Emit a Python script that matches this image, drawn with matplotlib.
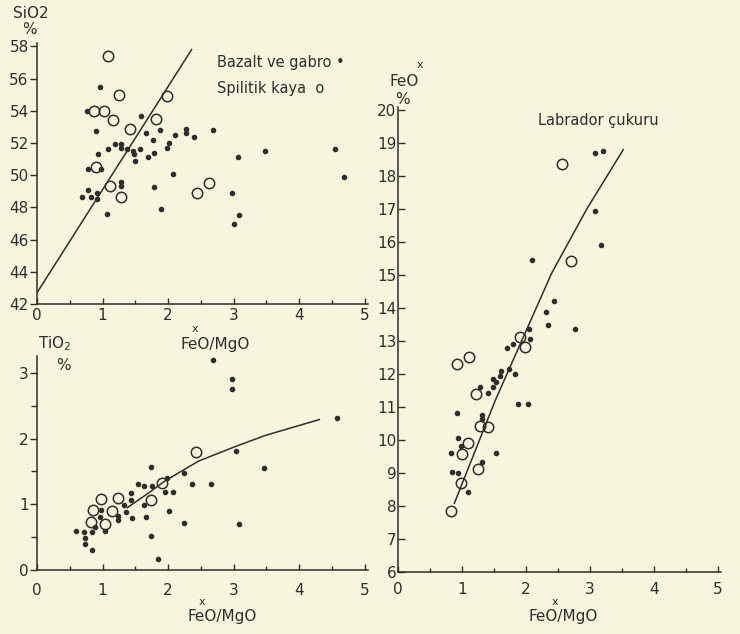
import matplotlib
matplotlib.use('Agg')
import matplotlib.pyplot as plt
from matplotlib.ticker import MultipleLocator

### data

# SiO2 % against FeO(x)/MgO
sio2_bazalt_x = [0.96, 0.76, 0.90, 0.93, 0.78, 0.97, 0.78, 0.69, 0.83, 0.92, 0.92, 1.07,
                 1.09, 1.19, 1.29, 1.28, 1.38, 1.47, 1.48, 1.50, 1.57, 1.28, 1.28, 1.59,
                 1.67, 1.77, 1.78, 1.69, 1.88, 2.02, 1.98, 2.10, 2.28, 2.28, 2.40, 2.69,
                 2.07, 1.79, 1.89, 3.07, 3.48, 2.97, 3.09, 3.00, 4.55, 4.69]
sio2_bazalt_y = [55.5, 54.0, 52.75, 51.3, 50.4, 50.4, 49.1, 48.65, 48.65, 48.9, 48.5, 47.6,
                 51.6, 51.95, 51.95, 51.7, 51.6, 51.5, 51.3, 50.9, 51.6, 49.6, 49.3, 53.7,
                 52.6, 52.2, 51.35, 51.1, 52.8, 52.0, 51.7, 52.5, 52.9, 52.6, 52.4, 52.8,
                 50.1, 49.25, 47.9, 51.1, 51.5, 48.9, 47.5, 47.0, 51.6, 49.9]
sio2_spilit_x = [1.09, 1.25, 0.87, 1.03, 1.165, 1.415, 1.98, 1.82, 0.905, 1.11, 1.28, 2.45, 2.62]
sio2_spilit_y = [57.4, 55.0, 54.0, 54.0, 53.4, 52.85, 54.9, 53.5, 50.5, 49.35, 48.65, 48.9, 49.5]
sio2_line_x = [0.0, 2.36]
sio2_line_y = [42.7, 57.8]

# TiO2 % against FeO(x)/MgO
tio2_bazalt_x = [0.60, 0.72, 0.74, 0.73, 0.835, 0.835, 0.885, 0.96, 0.97, 1.04, 1.24, 1.24,
                 1.33, 1.36, 1.455, 1.43, 1.43, 1.54, 1.63, 1.75, 1.745, 1.67, 1.64, 1.74,
                 1.85, 1.98, 1.95, 2.08, 2.02, 2.25, 2.37, 2.66, 2.24, 3.08, 2.68, 2.98,
                 2.98, 3.04, 3.46, 4.58]
tio2_bazalt_y = [0.60, 0.58, 0.48, 0.40, 0.31, 0.58, 0.65, 0.81, 0.92, 0.60, 0.76, 0.82,
                 0.99, 0.89, 0.79, 1.07, 1.17, 1.31, 1.28, 1.28, 1.57, 0.80, 0.99, 0.52,
                 0.17, 1.40, 1.19, 1.19, 0.90, 1.48, 1.31, 1.31, 0.72, 0.70, 3.20, 2.90,
                 2.76, 1.81, 1.56, 2.32]
tio2_spilit_x = [0.97, 1.23, 0.855, 1.14, 0.82, 1.04, 1.74, 1.91, 2.43]
tio2_spilit_y = [1.08, 1.09, 0.91, 0.90, 0.73, 0.70, 1.07, 1.32, 1.79]
tio2_curve_x = [1.38, 1.70, 1.96, 2.47, 3.03, 3.49, 4.31]
tio2_curve_y = [0.95, 1.17, 1.36, 1.66, 1.88, 2.05, 2.29]

# FeO(x) % against FeO(x)/MgO, Labrador cukuru
feo_bazalt_x = [0.85, 0.94, 1.09, 0.83, 0.94, 0.99, 0.93, 1.32, 1.53, 1.32, 1.31, 1.40,
                1.28, 1.49, 1.53, 1.48, 1.59, 1.61, 1.73, 1.83, 1.70, 1.80, 2.05, 2.06,
                1.88, 2.03, 2.32, 2.34, 2.44, 2.10, 2.77, 3.08, 3.17, 3.08, 3.21]
feo_bazalt_y = [9.04, 8.99, 8.42, 9.62, 10.05, 9.82, 10.81, 9.34, 9.62, 10.76, 10.63, 11.43,
                11.62, 11.62, 11.77, 11.84, 11.94, 12.09, 12.14, 12.0, 12.78, 12.9, 13.35, 13.05,
                11.09, 11.09, 13.89, 13.48, 14.22, 15.45, 13.35, 16.94, 15.9, 18.7, 18.76]
feo_spilit_x = [0.83, 0.98, 1.25, 0.995, 1.10, 1.40, 1.28, 1.22, 0.92, 1.11, 1.91, 1.98, 2.70, 2.57]
feo_spilit_y = [7.86, 8.71, 9.11, 9.58, 9.92, 10.4, 10.42, 11.4, 12.3, 12.52, 13.11, 12.83, 15.43, 18.36]
feo_line_x = [0.88, 1.52, 2.40, 2.95, 3.52]
feo_line_y = [8.08, 11.2, 15.05, 17.0, 18.8]

x_ticks = [0, 1, 2, 3, 4, 5]

paper = '#f7f5de'
ink = '#2e2e2e'


### helpers

def style_axes(ax, ylim, ymajor, yminor, ydir, xpad):
    ax.set_facecolor('none')
    for side in ['top', 'right']:
        ax.spines[side].set_visible(False)
    for side in ['left', 'bottom']:
        ax.spines[side].set_color(ink)
        ax.spines[side].set_linewidth(1.1)
    ax.set_xlim(0, 5.05)
    ax.set_ylim(ylim)
    ax.set_xticks(x_ticks)
    ax.xaxis.set_minor_locator(MultipleLocator(0.5))
    ax.yaxis.set_major_locator(MultipleLocator(ymajor))
    if yminor:
        ax.yaxis.set_minor_locator(MultipleLocator(yminor))
    ax.tick_params(axis='x', which='both', direction='in', color=ink,
                   labelcolor=ink, labelsize=11, pad=xpad)
    ax.tick_params(axis='x', which='major', length=4, width=1)
    ax.tick_params(axis='x', which='minor', length=3, width=1)
    ax.tick_params(axis='y', which='both', direction=ydir, color=ink,
                   labelcolor=ink, labelsize=11, pad=1)
    ax.tick_params(axis='y', which='major', length=5, width=1)
    ax.tick_params(axis='y', which='minor', length=4, width=1)


def draw_points(ax, bx, by, sx, sy):
    ax.plot(bx, by, 'o', color=ink, markersize=3.0, zorder=3)
    ax.plot(sx, sy, 'o', mfc='none', mec=ink, markersize=7.5, mew=1.1, zorder=4)


def label(x, y, s, size=11, ha='center'):
    # x, y in pixels of the 740x634 picture
    fig.text(x / 740, 1 - y / 634, s, fontsize=size, color=ink, ha=ha, va='center')


fig = plt.figure(figsize=(7.4, 6.34), dpi=100)
fig.patch.set_facecolor(paper)

ax1 = fig.add_axes([0.050, 0.5205, 0.447, 0.4114])
ax2 = fig.add_axes([0.050, 0.1009, 0.447, 0.3368])
ax3 = fig.add_axes([0.5378, 0.0978, 0.4368, 0.7339])

style_axes(ax1, (42, 58.2), 2, None, 'out', 3)
style_axes(ax2, (0, 3.25), 1, 0.5, 'out', 9)
style_axes(ax3, (6, 20.1), 1, None, 'in', 7)

draw_points(ax1, sio2_bazalt_x, sio2_bazalt_y, sio2_spilit_x, sio2_spilit_y)
ax1.plot(sio2_line_x, sio2_line_y, color=ink, lw=1.1, zorder=2)

draw_points(ax2, tio2_bazalt_x, tio2_bazalt_y, tio2_spilit_x, tio2_spilit_y)
ax2.plot(tio2_curve_x, tio2_curve_y, color=ink, lw=1.1, zorder=2)

draw_points(ax3, feo_bazalt_x, feo_bazalt_y, feo_spilit_x, feo_spilit_y)
ax3.plot(feo_line_x, feo_line_y, color=ink, lw=1.1, zorder=2)

# axis names, drawn the way the page has them
label(31, 13, 'SiO2')
label(29, 30, '%')
label(215, 345, 'FeO/MgO')
label(195, 329, 'x', size=8)
label(38, 344, 'TiO$_2$', ha='left')
label(63, 366, '%')
label(222, 617, 'FeO/MgO')
label(202, 602, 'x', size=8)
label(563, 617, 'FeO/MgO')
label(555, 602, 'x', size=8)
label(404, 81, 'FeO')
label(420, 65, 'x', size=8)
label(402, 99, '%')

# key and title
label(217, 62, 'Bazalt ve gabro •', size=10.5, ha='left')
label(217, 88, 'Spilitik kaya  o', size=10.5, ha='left')
label(598, 121, 'Labrador çukuru', size=10.5)

fig.savefig('out.png', dpi=100, facecolor=paper)
